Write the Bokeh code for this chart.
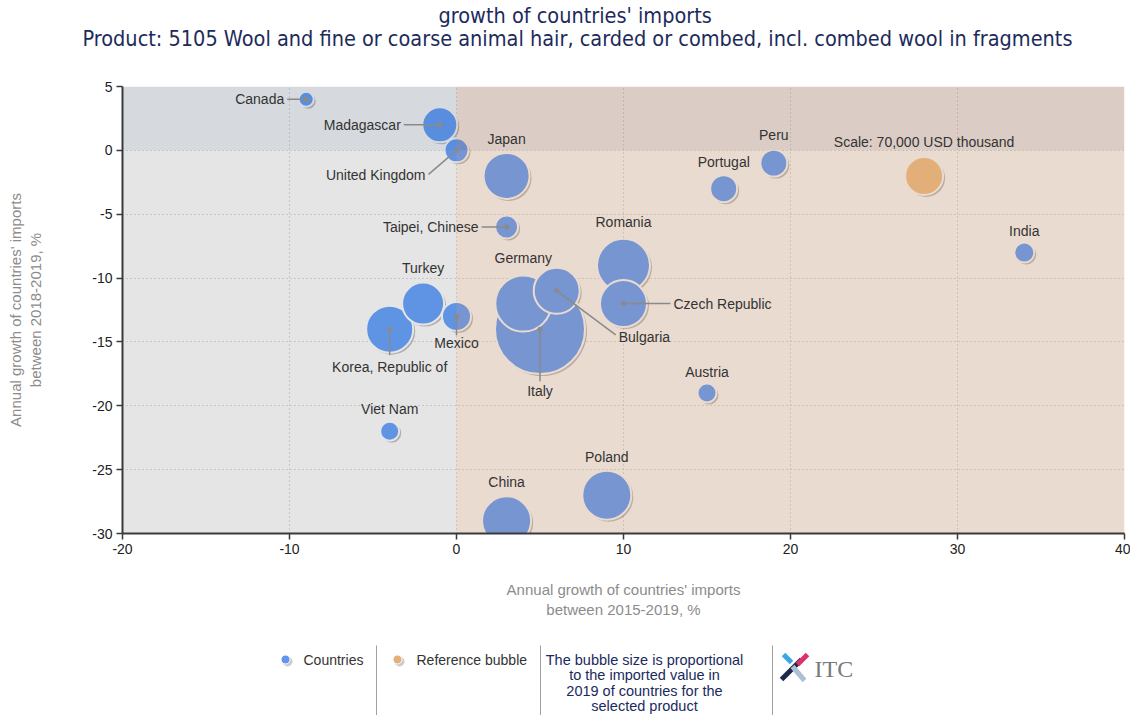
import numpy as np
from bokeh.plotting import figure
from bokeh.models import ColumnDataSource, Range1d, FixedTicker, Title
from bokeh.layouts import column
from bokeh.embed import file_html
from bokeh.resources import INLINE
from bokeh.core.properties import value

# ---------------- data ----------------
countries = ["Canada", "Madagascar", "United Kingdom", "Japan", "Taipei, Chinese",
             "Turkey", "Korea, Republic of", "Mexico", "Viet Nam", "Germany", "Italy",
             "Bulgaria", "Romania", "Czech Republic", "Austria", "Poland", "China",
             "Portugal", "Peru", "India"]
growth_2015_2019 = [-9, -1, 0, 3, 3, -2, -4, 0, -4, 4, 5, 6, 10, 10, 15, 9, 3, 16, 19, 34]
growth_2018_2019 = [4, 2, 0, -2, -6, -12, -14, -13, -22, -12, -14, -11, -9, -12, -19, -27, -29, -3, -1, -8]
import_value_2019 = [10900, 59400, 27900, 102600, 25600, 85500, 107100, 40800, 17500, 152000,
                     392700, 102600, 136200, 107100, 17500, 116400, 116400, 35300, 35300, 19400]

ref_label = "Scale: 70,000 USD thousand"
ref_value = 70000
ref_x = [28]
ref_y = [-2]

x_ticks = [-20, -10, 0, 10, 20, 30, 40]
y_ticks = [-30, -25, -20, -15, -10, -5, 0, 5]

title_line1 = "growth of countries' imports"
title_line2 = "Product: 5105 Wool and fine or coarse animal hair, carded or combed, incl. combed wool in fragments"
x_title = "Annual growth of countries' imports\nbetween 2015-2019, %"
y_title = "Annual growth of countries' imports\nbetween 2018-2019, %"
legend_countries = "Countries"
legend_reference = "Reference bubble"
legend_note = ["The bubble size is proportional", "to the imported value in",
               "2019 of countries for the", "selected product"]

# ---------------- layout / style ----------------
W = 1130
FRAME_L, FRAME_W, FRAME_T, FRAME_H = 122, 1002, 86, 447
FRAME_R = FRAME_L + FRAME_W
MAIN_H = 625
LEG_H = 90
X_MIN, X_MAX, Y_MIN, Y_MAX = x_ticks[0], x_ticks[-1], y_ticks[0], y_ticks[-1]
SX = (X_MAX - X_MIN) / FRAME_W
SY = (Y_MAX - Y_MIN) / FRAME_H
REF_DIAM = 38.0

# label placement (pixel offsets from bubble centre): dx, dy, align, leader end (lx, ly) or None
label_layout = {
    "Canada": (-22, 0, "right", (-19, 0)),
    "Madagascar": (-39, 0, "right", (-36, 0)),
    "United Kingdom": (-31, 25, "right", (-28, 24)),
    "Japan": (0, -37, "center", None),
    "Taipei, Chinese": (-28, 0, "right", (-25, 0)),
    "Turkey": (0, -36, "center", None),
    "Korea, Republic of": (0, 38, "center", (0, 26)),
    "Mexico": (0, 27, "center", (0, 19)),
    "Viet Nam": (0, -22, "center", None),
    "Germany": (0, -46, "center", None),
    "Italy": (0, 62, "center", (0, 52)),
    "Bulgaria": (62, 46, "left", (59, 44)),
    "Romania": (0, -43, "center", None),
    "Czech Republic": (50, 0, "left", (47, 0)),
    "Austria": (0, -21, "center", None),
    "Poland": (0, -38, "center", None),
    "China": (0, -39, "center", None),
    "Portugal": (0, -27, "center", None),
    "Peru": (0, -28, "center", None),
    "India": (0, -22, "center", None),
}

FONT = value("Liberation Sans")

# ---------------- main ----------------
p = figure(width=W, height=MAIN_H, x_range=Range1d(X_MIN, X_MAX), y_range=Range1d(Y_MIN, Y_MAX),
           output_backend="svg", toolbar_location=None,
           min_border_left=FRAME_L, min_border_right=W - FRAME_R,
           min_border_top=FRAME_T, min_border_bottom=MAIN_H - FRAME_T - FRAME_H)
p.outline_line_color = None

# title panels (nearest the frame first): spacer, line 2, line 1
p.add_layout(Title(text=" ", text_font_size="1px", standoff=37), "above")
p.add_layout(Title(text=title_line2, align="left", offset=-40, standoff=-8,
                   text_font="DejaVu Sans Condensed", text_font_size="21.5px",
                   text_font_style="normal", text_color="#1d2b5b"), "above")
p.add_layout(Title(text=title_line1, align="left", offset=316, standoff=0,
                   text_font="DejaVu Sans Condensed", text_font_size="21.5px",
                   text_font_style="normal", text_color="#1d2b5b"), "above")

for ax, ticks in ((p.xaxis, x_ticks), (p.yaxis, y_ticks)):
    ax.ticker = FixedTicker(ticks=ticks)
    ax.major_label_overrides = {t: str(t) for t in ticks}
    ax.axis_line_color = "#3a3a3a"
    ax.axis_line_width = 2
    ax.major_tick_line_color = "#3a3a3a"
    ax.major_tick_line_width = 1.5
    ax.major_tick_out = 6
    ax.major_tick_in = 0
    ax.minor_tick_line_color = None
    ax.major_label_text_font = "Liberation Sans"
    ax.major_label_text_font_size = "14px"
    ax.major_label_text_color = "#222222"
    ax.axis_label_text_font = "Liberation Sans"
    ax.axis_label_text_font_size = "15px"
    ax.axis_label_text_font_style = "normal"
    ax.axis_label_text_color = "#8c8c8c"
p.xaxis.axis_label = x_title
p.yaxis.axis_label = y_title
p.xaxis.axis_label_standoff = 24
p.yaxis.axis_label_standoff = 45
p.xaxis.major_label_standoff = 4
p.yaxis.major_label_standoff = 4

p.xgrid.ticker = FixedTicker(ticks=x_ticks)
p.ygrid.ticker = FixedTicker(ticks=y_ticks)
p.grid.grid_line_color = "#bdbdbd"
p.grid.grid_line_dash = "1 3"
p.grid.grid_line_width = 1

sizes = [REF_DIAM * np.sqrt(v / ref_value) for v in import_value_2019]
order = np.argsort(sizes)[::-1]
src = ColumnDataSource(dict(
    x=[growth_2015_2019[i] for i in order],
    y=[growth_2018_2019[i] for i in order],
    size=[sizes[i] for i in order],
))
shadow = ColumnDataSource(dict(
    x=[growth_2015_2019[i] + 2 * SX for i in order],
    y=[growth_2018_2019[i] - 2 * SY for i in order],
    size=[sizes[i] for i in order],
))

# shadows and bubbles
p.scatter("x", "y", size="size", source=shadow, fill_color="#7a7a7a", fill_alpha=0.45, line_color=None)
p.scatter("x", "y", size="size", source=src, fill_color="#6aa5ff", line_color="white", line_width=2)
ref_size = [REF_DIAM]
p.scatter(x=[ref_x[0] + 2 * SX], y=[ref_y[0] - 2 * SY], size=ref_size, fill_color="#7a7a7a",
          fill_alpha=0.45, line_color=None)
p.scatter(x=ref_x, y=ref_y, size=ref_size, fill_color="#f6c78c", line_color="white", line_width=2)

# quadrant tint overlays
p.quad(left=[X_MIN, X_MIN, 0, 0], right=[0, 0, X_MAX, X_MAX],
       bottom=[0, Y_MIN, 0, Y_MIN], top=[Y_MAX, 0, Y_MAX, 0],
       fill_color=["#001831", "#000000", "#7e4c30", "#a26033"],
       fill_alpha=[0.16, 0.10, 0.28, 0.226], line_color=None)

# leaders
lx0, ly0, lx1, ly1 = [], [], [], []
for c, gx, gy in zip(countries, growth_2015_2019, growth_2018_2019):
    lead = label_layout[c][3]
    if lead is not None:
        lx0.append(gx); ly0.append(gy)
        lx1.append(gx + lead[0] * SX); ly1.append(gy - lead[1] * SY)
p.segment(x0=lx0, y0=ly0, x1=lx1, y1=ly1, line_color="#8a8a8a", line_width=1.5)
p.scatter(x=lx0, y=ly0, size=5, fill_color="#8a8a8a", line_color=None)

# labels
for align in ("left", "center", "right"):
    idx = [i for i, c in enumerate(countries) if label_layout[c][2] == align]
    if not idx:
        continue
    ls = ColumnDataSource(dict(
        x=[growth_2015_2019[i] for i in idx],
        y=[growth_2018_2019[i] for i in idx],
        t=[countries[i] for i in idx],
        dx=[label_layout[countries[i]][0] for i in idx],
        dy=[label_layout[countries[i]][1] for i in idx],
    ))
    p.text("x", "y", text="t", x_offset="dx", y_offset="dy", source=ls, text_font=FONT,
           text_font_size="14px", text_color="#333333", text_align=align, text_baseline="middle")
p.text(x=ref_x, y=ref_y, text=[ref_label], y_offset=-34, text_font=FONT, text_font_size="14px",
       text_color="#333333", text_align="center", text_baseline="middle")

# ---------------- legend (coordinates = page pixels, y from legend top at 625) ----------------
leg = figure(width=W, height=LEG_H, x_range=Range1d(FRAME_L, FRAME_R), y_range=Range1d(LEG_H, 0),
             output_backend="svg", toolbar_location=None,
             min_border_left=FRAME_L, min_border_right=W - FRAME_R, min_border_top=0, min_border_bottom=0)
leg.axis.visible = False
leg.grid.visible = False
leg.outline_line_color = None
leg.scatter(x=[287, 399], y=[36, 36], size=10, fill_color="#9a9a9a", fill_alpha=0.5, line_color=None)
leg.scatter(x=[285, 397], y=[34, 34], size=9, fill_color=["#6495ed", "#e3b07c"], line_color="white",
            line_width=1)
leg.text(x=[303, 416], y=[34, 34], text=[legend_countries, legend_reference], text_font=FONT,
         text_font_size="14px", text_color="#333333", text_align="left", text_baseline="middle")
leg.segment(x0=[376, 540, 772], y0=[20, 20, 20], x1=[376, 540, 772], y1=[LEG_H, LEG_H, LEG_H],
            line_color="#a0a0a0", line_width=1)
leg.text(x=[644] * 4, y=[34, 49, 65, 80], text=legend_note, text_font=FONT, text_font_size="14.5px",
         text_color="#1a2a5e", text_align="center", text_baseline="middle")

# ITC logo
leg.segment(x0=[781, 783, 792, 807], y0=[54, 29, 41, 29], x1=[801, 791, 804, 797], y1=[34, 37, 55, 39],
            line_color=["#1b2a4a", "#3aa8e0", "#aebfd4", "#e0306a"], line_width=5)
leg.text(x=[814], y=[43], text=["ITC"], text_font=value("Liberation Serif"), text_font_size="24px",
         text_color="#7a7a7a", text_align="left", text_baseline="middle")

layout = column(p, leg, spacing=0)
open("out.html", "w").write(file_html(layout, INLINE))
